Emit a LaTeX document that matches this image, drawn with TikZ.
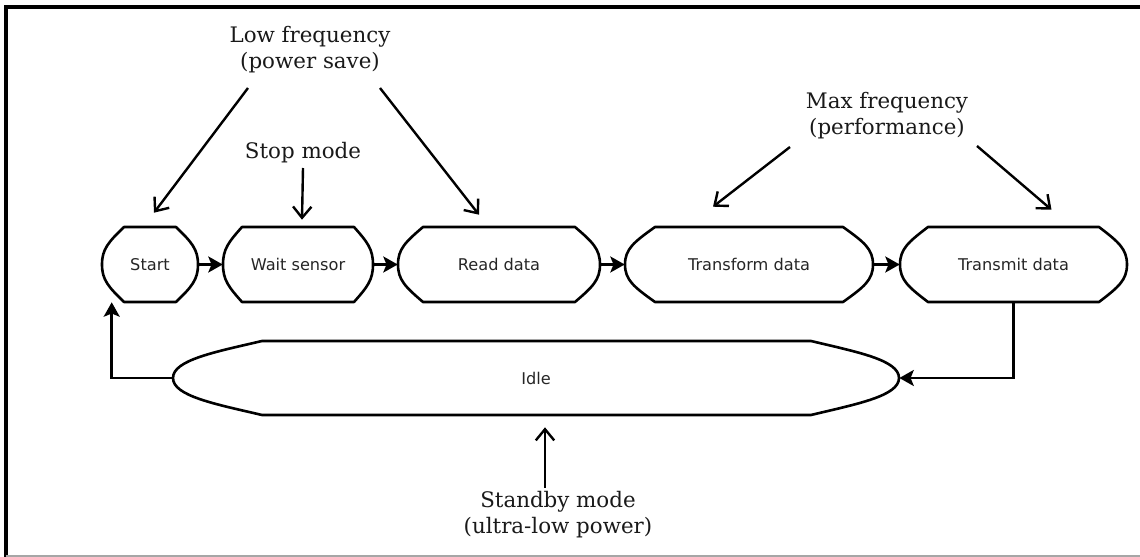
\documentclass[tikz,border=0pt]{standalone}
\usepackage{fontspec}
\newfontfamily\labelfont{DejaVu Serif}
\newfontfamily\boxfont{DejaVu Sans}
\usetikzlibrary{arrows.meta}
\tikzset{
	statetext/.style={font=\boxfont\fontsize{11.5}{13}\selectfont, text=black!85, inner sep=0pt, minimum height=1.875cm},
	stateline/.style={line width=0.065cm, line join=round},
	flow/.style={line width=0.065cm, -{Stealth[length=0.36cm, width=0.4cm, inset=0.08cm]}},
	note/.style={line width=0.06cm, -{Straight Barb[length=0.28cm, width=0.46cm]}},
	notetext/.style={font=\labelfont\fontsize{15.2}{18.5}\selectfont, text=black!90, align=center, inner sep=0pt}
}
\def\statebox(#1)(#2:#3:#4)#5{%
	\node[statetext, minimum width={(#3-#2)*0.025cm}] (#1) at ({(#2+#3)/2}, 264.5) {#5};
	\draw[stateline] (#2+#4, 227) -- (#3-#4, 227) .. controls (#3-0.3*#4, 242) and (#3, 249) .. (#3, 264.5) .. controls (#3, 280) and (#3-0.3*#4, 287) .. (#3-#4, 302) -- (#2+#4, 302) .. controls (#2+0.3*#4, 287) and (#2, 280) .. (#2, 264.5) .. controls (#2, 249) and (#2+0.3*#4, 242) .. cycle;}

\begin{document}
\begin{tikzpicture}[x=0.025cm, y=-0.025cm]
			%%%%% START %%%%%
			\useasboundingbox (0, 0) rectangle (1140, 557);
			
			\draw[line width=0.09cm] (6, 557) -- (6, 7) -- (1140, 7);
			\draw[line width=0.04cm, color=black!35] (6, 556) -- (1140, 556);
			
			\statebox(start)(102:198:22){Start}
			\statebox(wait)(223:373:19){Wait sensor}
			\statebox(read)(398:600:25){Read data}
			\statebox(transform)(625:873:30){Transform data}
			\statebox(transmit)(900:1127:28){Transmit data}
			
			\node[statetext, minimum width=18.15cm, minimum height=1.85cm] (idle) at (536, 378) {Idle};
			\draw[stateline] (262, 341) -- (811, 341) .. controls (857, 352) and (899, 360) .. (899, 378) .. controls (899, 396) and (857, 404) .. (811, 415) -- (262, 415) .. controls (215, 404) and (173, 396) .. (173, 378) .. controls (173, 360) and (215, 352) .. cycle;
			
			\draw[flow] (start) -- (wait);
			\draw[flow] (wait) -- (read);
			\draw[flow] (read) -- (transform);
			\draw[flow] (transform) -- (transmit);
			\draw[flow] (transmit.south) |- (idle.east);
			\draw[flow] (idle.west) -| ([shift={(10, 0)}]start.south west);
			
			\node[notetext] (lowfreq) at (310, 50) {Low frequency\\(power save)};
			\node[notetext] (stopmode) at (303, 153) {Stop mode};
			\node[notetext] (maxfreq) at (887, 116) {Max frequency\\(performance)};
			\node[notetext] (standby) at (558, 515) {Standby mode\\(ultra-low power)};
			
			\draw[note] ([shift={(-62, 38)}]lowfreq.center) -- ([shift={(4, -14)}]start.north);
			\draw[note] ([shift={(70, 38)}]lowfreq.center) -- ([shift={(-20, -12)}]read.north);
			\draw[note] ([shift={(0, 15)}]stopmode.center) -- ([shift={(4, -7)}]wait.north);
			\draw[note] ([shift={(-97, 31)}]maxfreq.center) -- ([shift={(-36, -20)}]transform.north);
			\draw[note] ([shift={(90, 30)}]maxfreq.center) -- ([shift={(38, -17)}]transmit.north);
			\draw[note] ([shift={(-13, -27)}]standby.center) -- ([shift={(9, 12)}]idle.south);
			
			%%%%% END %%%%%
		\end{tikzpicture}
\end{document}
